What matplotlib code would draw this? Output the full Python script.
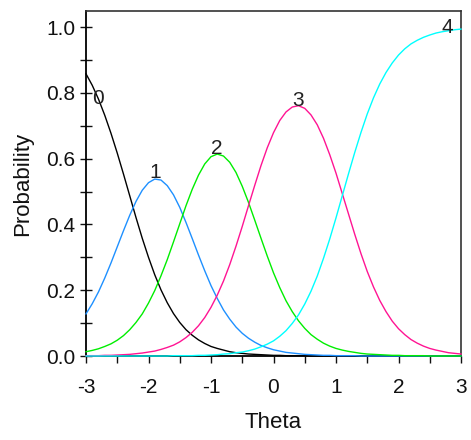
import numpy as np
import matplotlib
matplotlib.use('Agg')
import matplotlib.pyplot as plt
from matplotlib.ticker import MultipleLocator, FormatStrFormatter

plt.rcParams['font.family'] = ['Liberation Sans', 'DejaVu Sans']
plt.rcParams['axes.unicode_minus'] = False

# theta grid, step 0.1 from -3 to 3
theta = np.linspace(-3, 3, 61)

# category probabilities
p0 = [0.858, 0.823, 0.781, 0.732, 0.677, 0.617, 0.553, 0.487, 0.421, 0.358,
      0.300, 0.247, 0.201, 0.162, 0.129, 0.102, 0.080, 0.063, 0.049, 0.038,
      0.029, 0.023, 0.018, 0.013, 0.010, 0.008, 0.006, 0.005, 0.004, 0.003,
      0.002, 0.002, 0.001, 0.001, 0.001, 0.001, 0.000, 0.000, 0.000, 0.000,
      0.000, 0.000, 0.000, 0.000, 0.000, 0.000, 0.000, 0.000, 0.000, 0.000,
      0.000, 0.000, 0.000, 0.000, 0.000, 0.000, 0.000, 0.000, 0.000, 0.000, 0.000]
p1 = [0.128, 0.159, 0.195, 0.237, 0.283, 0.332, 0.381, 0.428, 0.470, 0.504,
      0.527, 0.538, 0.535, 0.518, 0.490, 0.452, 0.406, 0.357, 0.307, 0.259,
      0.214, 0.175, 0.140, 0.112, 0.088, 0.069, 0.054, 0.042, 0.032, 0.025,
      0.019, 0.015, 0.011, 0.009, 0.007, 0.005, 0.004, 0.003, 0.002, 0.002,
      0.001, 0.001, 0.001, 0.001, 0.000, 0.000, 0.000, 0.000, 0.000, 0.000,
      0.000, 0.000, 0.000, 0.000, 0.000, 0.000, 0.000, 0.000, 0.000, 0.000, 0.000]
p2 = [0.013, 0.017, 0.022, 0.029, 0.037, 0.048, 0.062, 0.080, 0.102, 0.128,
      0.161, 0.199, 0.244, 0.293, 0.347, 0.402, 0.457, 0.507, 0.550, 0.584,
      0.606, 0.614, 0.608, 0.589, 0.558, 0.516, 0.467, 0.413, 0.358, 0.304,
      0.253, 0.208, 0.168, 0.135, 0.107, 0.084, 0.065, 0.051, 0.039, 0.030,
      0.023, 0.018, 0.014, 0.011, 0.008, 0.006, 0.005, 0.004, 0.003, 0.002,
      0.002, 0.001, 0.001, 0.001, 0.001, 0.000, 0.000, 0.000, 0.000, 0.000, 0.000]
p3 = [0.001, 0.001, 0.001, 0.002, 0.002, 0.003, 0.004, 0.005, 0.007, 0.009,
      0.012, 0.015, 0.020, 0.026, 0.033, 0.043, 0.056, 0.072, 0.092, 0.117,
      0.148, 0.185, 0.228, 0.278, 0.334, 0.394, 0.457, 0.519, 0.579, 0.633,
      0.679, 0.716, 0.742, 0.757, 0.761, 0.753, 0.733, 0.703, 0.662, 0.612,
      0.556, 0.494, 0.432, 0.370, 0.311, 0.257, 0.210, 0.169, 0.135, 0.106,
      0.083, 0.065, 0.050, 0.039, 0.030, 0.023, 0.018, 0.014, 0.010, 0.008, 0.006]
p4 = [0.000, 0.000, 0.000, 0.000, 0.000, 0.000, 0.000, 0.000, 0.000, 0.000,
      0.000, 0.000, 0.000, 0.000, 0.001, 0.001, 0.001, 0.001, 0.002, 0.002,
      0.003, 0.004, 0.006, 0.007, 0.010, 0.012, 0.016, 0.021, 0.028, 0.036,
      0.046, 0.060, 0.077, 0.099, 0.125, 0.158, 0.197, 0.243, 0.297, 0.356,
      0.420, 0.487, 0.554, 0.619, 0.680, 0.736, 0.785, 0.827, 0.862, 0.891,
      0.915, 0.934, 0.949, 0.960, 0.969, 0.976, 0.982, 0.986, 0.989, 0.992, 0.994]

curves = [p0, p1, p2, p3, p4]
cat_labels = ['0', '1', '2', '3', '4']
colors = ['#000000', '#1E90FF', '#00EE00', '#FF1493', '#00FFFF']
# label offsets from each curve's maximum, in points
label_offsets = [(8.6, -21.8), (0, 0.5), (0, 0), (0, 0), (-9.7, -2.9)]

fig = plt.figure(figsize=(4.71, 4.40), dpi=100)
ax = fig.add_axes([86/471, 84/440, 375/471, 345/440])

for p, c in zip(curves, colors):
    ax.plot(theta, p, color=c, lw=1.0, zorder=3, clip_on=False)

for p, lab, off in zip(curves, cat_labels, label_offsets):
    i = int(np.argmax(p))
    ax.annotate(lab, (theta[i], p[i]), xytext=off, textcoords='offset points',
                ha='center', va='baseline', fontsize=15, color='#222222', zorder=4)

ax.set_xlim(-3, 3)
ax.set_ylim(0, 1.049)
ax.xaxis.set_major_locator(MultipleLocator(1))
ax.xaxis.set_minor_locator(MultipleLocator(0.5))
ax.yaxis.set_major_locator(MultipleLocator(0.2))
ax.yaxis.set_minor_locator(MultipleLocator(0.1))
ax.yaxis.set_major_formatter(FormatStrFormatter('%.1f'))

ax.tick_params(axis='y', which='both', direction='inout', length=8.6, width=1.0,
               pad=3.6, labelsize=15, colors='#111111')
ax.tick_params(axis='x', which='both', direction='out', length=5.3, width=1.0,
               pad=10.6, labelsize=15, colors='#111111')

ax.set_xlabel('Theta', fontsize=16, labelpad=11, color='#111111')
ax.set_ylabel('Probability', fontsize=16, labelpad=9.4, color='#111111')

for s in ['left', 'bottom']:
    ax.spines[s].set_color('#000000')
    ax.spines[s].set_linewidth(1.3)
for s in ['top', 'right']:
    ax.spines[s].set_color('#333333')
    ax.spines[s].set_linewidth(1.2)

fig.savefig('out.png', dpi=100)
